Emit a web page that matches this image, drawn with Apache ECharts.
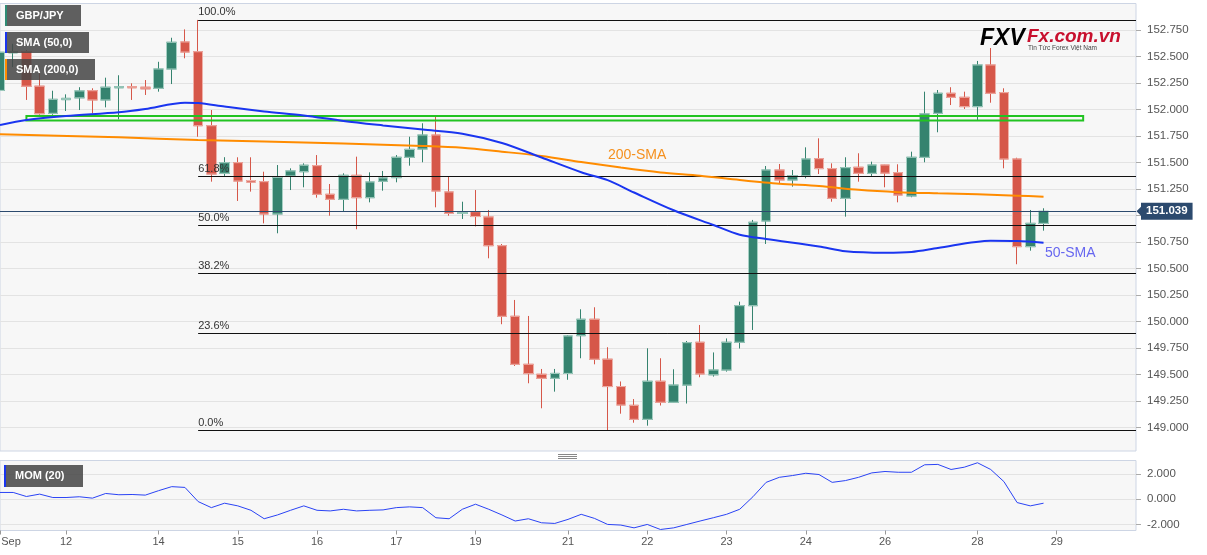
<!DOCTYPE html>
<html><head><meta charset="utf-8">
<script src="https://cdn.jsdelivr.net/npm/echarts@6/dist/echarts.min.js"></script>
<style>html,body{margin:0;padding:0;background:#fff}#c{width:1207px;height:555px}</style>
</head><body><div id="c"></div>
<script>
// ---- data (4-hour candles, index 0 = partially visible first candle) ----
const opens = [
152.18,152.535,152.545,152.22,151.964,152.093,152.11,152.177,152.09,152.205,
152.215,152.21,152.20,152.382,152.637,152.545,151.847,151.398,151.498,151.33,
151.319,151.014,151.373,151.413,151.47,151.20,151.153,151.379,151.168,151.323,
151.357,151.549,151.627,151.759,151.222,151.02,151.036,150.986,150.715,150.049,
149.596,149.502,149.464,149.51,149.866,150.021,149.644,149.386,149.209,149.077,
149.436,149.238,149.40,149.804,149.497,149.542,149.804,150.149,150.948,151.429,
151.335,151.375,151.536,151.442,151.162,151.455,151.398,151.476,151.404,151.184,
151.549,151.964,152.153,152.115,152.027,152.42,152.159,151.533,150.706,150.926];
const closes = [
152.54,152.545,152.22,151.96,152.096,152.105,152.175,152.09,152.21,152.215,
152.205,152.195,152.382,152.634,152.542,151.847,151.391,151.498,151.325,151.315,
151.014,151.36,151.42,151.474,151.20,151.153,151.379,151.168,151.316,151.354,
151.549,151.624,151.759,151.231,151.02,151.03,150.99,150.715,150.049,149.596,
149.508,149.464,149.51,149.863,150.021,149.644,149.386,149.212,149.077,149.436,
149.238,149.40,149.80,149.505,149.542,149.804,150.149,150.936,151.429,151.335,
151.375,151.533,151.442,151.162,151.451,151.398,151.476,151.40,151.193,151.549,
151.958,152.153,152.115,152.027,152.42,152.153,151.533,150.706,150.926,151.039];
const highs = [
152.61,152.62,152.56,152.34,152.177,152.143,152.21,152.20,152.30,152.323,
152.247,152.278,152.45,152.677,152.756,152.845,151.995,151.55,151.549,151.549,
151.413,151.476,151.445,151.492,151.57,151.297,151.398,151.555,151.407,151.42,
151.57,151.743,151.87,151.932,151.366,151.13,151.24,151.052,150.731,150.203,
150.052,149.552,149.552,149.87,150.115,150.134,149.757,149.434,149.268,149.747,
149.653,149.549,149.816,149.967,149.708,149.84,150.187,150.958,151.467,151.486,
151.429,151.643,151.728,151.492,151.549,151.587,151.508,151.478,151.483,151.602,
152.168,152.184,152.21,152.168,152.458,152.58,152.20,151.545,151.052,151.068];
const lows = [
152.09,152.40,152.09,151.95,151.95,151.986,151.995,151.964,152.02,151.907,
152.09,152.137,152.168,152.24,152.483,151.743,151.319,151.373,151.137,151.225,
150.926,150.832,151.24,151.266,151.168,150.998,151.042,150.87,151.124,151.234,
151.313,151.47,151.502,151.077,150.998,150.967,150.897,150.596,149.974,149.58,
149.417,149.181,149.338,149.45,149.653,149.596,148.975,149.13,149.045,149.017,
149.207,149.235,149.226,149.474,149.48,149.527,149.745,149.92,150.731,151.304,
151.272,151.351,151.391,151.13,150.989,151.319,151.373,151.266,151.124,151.172,
151.502,151.785,152.042,152.005,151.901,152.064,151.445,150.54,150.668,150.857];
// moving averages read at selected candle indices: [index, value]
const sma50 = [[0,151.854],[2,151.901],[5,151.939],[9,151.974],[11,152.005],[14,152.064],[15,152.061],
[17,152.028],[20,151.982],[23,151.944],[26,151.892],[29,151.85],[32,151.811],[35,151.772],[38,151.684],
[41,151.547],[44,151.408],[46,151.333],[48,151.217],[51,151.049],[54,150.910],[56,150.818],[58,150.778],
[62,150.708],[64,150.663],[67,150.649],[69,150.656],[71,150.693],[75,150.762],[77,150.759],[79,150.743]];
const sma200 = [[0,151.766],[9,151.738],[15,151.712],[20,151.698],[26,151.679],[32,151.656],[35,151.639],
[38,151.602],[41,151.561],[44,151.505],[47,151.452],[50,151.406],[53,151.375],[56,151.335],[59,151.300],
[62,151.278],[65,151.242],[68,151.220],[71,151.209],[74,151.200],[77,151.187],[79,151.177]];
const mom20 = [
0.53,0.53,0.21,0.40,0.13,0.13,0.19,0.08,0.45,0.35,
0.37,0.32,0.67,0.99,0.93,-0.19,-0.67,-0.32,-0.53,-0.88,
-1.55,-1.25,-0.88,-0.53,-0.88,-0.93,-0.80,-0.93,-0.88,-0.85,
-0.67,-0.61,-0.67,-1.47,-1.55,-0.80,-0.40,-0.80,-1.25,-1.73,
-1.55,-1.87,-1.92,-1.60,-1.20,-1.52,-2.00,-2.05,-2.27,-2.00,
-2.40,-2.27,-2.00,-1.73,-1.47,-1.20,-0.80,0.19,1.33,1.73,
1.87,2.05,1.95,1.33,1.47,1.73,2.08,2.19,2.13,2.13,
2.72,2.75,2.35,2.53,2.88,2.35,1.39,-0.27,-0.53,-0.32];
const tickIdx  = [0,5,12,18,24,30,36,43,49,55,61,67,74,80];
const tickText = ['Sep','12','14','15','16','17','19','21','22','23','24','26','28','29'];
const fibHigh = 152.845, fibLow = 148.975, fibStartIdx = 15;
const fibPct = [100, 61.8, 50, 38.2, 23.6, 0];
const fibText = ['100.0%','61.8%','50.0%','38.2%','23.6%','0.0%'];
const zoneTop = 151.938, zoneBottom = 151.896, zoneFrom = 2, zoneTo = 82;
const lastPrice = 151.039;

// ---- chart ----
const FONT = 'Arial, "Liberation Sans", Helvetica, sans-serif';
const N = 87;
const cats = Array.from({length:N}, (_, j) => 'c' + j);
const candleData = opens.map((o, i) => [o, closes[i], lows[i], highs[i]]);
// bodies only (open/close range) for the lighter body outline
const bodyData = opens.map((o, i) => [o, closes[i], Math.min(o, closes[i]), Math.max(o, closes[i])]);
const momData = mom20.map((v, i) => [i, v]);
const tickOf = {}; tickIdx.forEach((j, i) => { tickOf[j] = tickText[i]; });

const UP = '#35836f', DOWN = '#d65749', UP_EDGE = '#a6d0c4', DOWN_EDGE = '#efb0a8';
const fibLines = fibPct.map((p, i) => {
  const lv = fibLow + (fibHigh - fibLow) * p / 100;
  return [
    {coord:[fibStartIdx, lv], lineStyle:{color:'#111', width:1, type:'solid'},
     label:{show:true, position:'insideStartTop', formatter:fibText[i], color:'#333', fontSize:11, fontFamily:FONT, distance:[0,2]}},
    {coord:[N-1, lv]}
  ];
});

const chart = echarts.init(document.getElementById('c'), null, {renderer:'canvas'});
const option = {
  animation:false,
  backgroundColor:'#ffffff',
  textStyle:{fontFamily:FONT},
  grid:[
    {left:0, top:3.5, width:1136, height:447.5, show:true, backgroundColor:'#f7f7f7', borderColor:'#cdd5e4', borderWidth:1, containLabel:false, outerBoundsMode:'none'},
    {left:0, top:460.5, width:1136, height:70, show:true, backgroundColor:'#f7f7f7', borderColor:'#cdd5e4', borderWidth:1, containLabel:false, outerBoundsMode:'none'}
  ],
  xAxis:[
    {type:'category', gridIndex:0, data:cats, boundaryGap:false, axisLine:{show:false, onZero:false}, axisTick:{show:false}, axisLabel:{show:false}, splitLine:{show:false}},
    {type:'category', gridIndex:1, data:cats, boundaryGap:false, position:'bottom', axisLine:{show:false, onZero:false},
     axisTick:{show:true, length:4, interval:(i) => tickOf[i] !== undefined, lineStyle:{color:'#999'}},
     axisLabel:{interval:0, color:'#555', fontSize:11, fontFamily:FONT, margin:6,
       formatter:(v, i) => { const t = tickOf[i]; if (t === undefined) return ''; return i === 0 ? '{s|' + t + '}' : t; },
       rich:{s:{padding:[0,0,0,22], color:'#555', fontSize:11, fontFamily:FONT}}},
     splitLine:{show:false}}
  ],
  yAxis:[
    {type:'value', gridIndex:0, position:'right', min:148.778, max:153.0, minInterval:0.25, maxInterval:0.25,
     axisLine:{show:false}, axisTick:{show:true, length:5, lineStyle:{color:'#aaa'}},
     axisLabel:{showMinLabel:false, showMaxLabel:false, formatter:(v) => v.toFixed(3), color:'#555', fontSize:11.5, fontFamily:FONT, margin:11},
     splitLine:{show:true, showMinLine:false, showMaxLine:false, lineStyle:{color:'#e3e3e3', width:1}}},
    {type:'value', gridIndex:1, position:'right', min:-2.48, max:3.06, minInterval:2, maxInterval:2, splitNumber:3,
     axisLine:{show:false}, axisTick:{show:true, length:5, lineStyle:{color:'#aaa'}},
     axisLabel:{showMinLabel:false, showMaxLabel:false, formatter:(v) => v.toFixed(3), color:'#555', fontSize:11.5, fontFamily:FONT, margin:11},
     splitLine:{show:true, showMinLine:false, showMaxLine:false, lineStyle:{color:'#e3e3e3', width:1}}}
  ],
  series:[
    {type:'candlestick', name:'GBP/JPY', xAxisIndex:0, yAxisIndex:0, data:candleData, barWidth:10, z:2,
     itemStyle:{color:UP, color0:DOWN, borderColor:UP, borderColor0:DOWN, borderWidth:1}},
    {type:'candlestick', name:'bodies', xAxisIndex:0, yAxisIndex:0, data:bodyData, barWidth:10, z:2,
     itemStyle:{color:UP, color0:DOWN, borderColor:UP_EDGE, borderColor0:DOWN_EDGE, borderWidth:1},
     markLine:{silent:true, z:5, symbol:['none','none'], animation:false,
       data: fibLines.concat([{yAxis:lastPrice, lineStyle:{color:'#2c4a6e', width:1, type:'solid'},
         label:{show:true, position:'end', formatter:lastPrice.toFixed(3), color:'#fff', backgroundColor:'#2c4a6e',
                padding:[3,5,2,5], fontWeight:'bold', fontSize:11.5, fontFamily:FONT, distance:5}}])},
     markArea:{silent:true, z:6, itemStyle:{color:'rgba(0,0,0,0)', borderColor:'#22c322', borderWidth:2},
       data:[[{coord:[zoneFrom, zoneTop]}, {coord:[zoneTo, zoneBottom]}]]}
    },
    {type:'line', name:'SMA (200,0)', xAxisIndex:0, yAxisIndex:0, data:sma200, smooth:0.3, showSymbol:false, symbol:'none',
     lineStyle:{color:'#ff8c00', width:2}, z:7},
    {type:'line', name:'SMA (50,0)', xAxisIndex:0, yAxisIndex:0, data:sma50, smooth:0.3, showSymbol:false, symbol:'none',
     lineStyle:{color:'#1a35f0', width:2}, z:8},
    {type:'line', name:'MOM (20)', xAxisIndex:1, yAxisIndex:1, data:momData, showSymbol:false, symbol:'none',
     lineStyle:{color:'#2a43f5', width:1}}
  ]
};
chart.setOption(option);

function legendBox(x, y, w, h, text, bar) {
  return [
    {type:'rect', shape:{x, y, width:w, height:h}, style:{fill:'rgba(70,70,70,0.86)'}, z:100},
    {type:'rect', shape:{x, y, width:2, height:h}, style:{fill:bar}, z:101},
    {type:'text', x:x + 11, y:y + h / 2, style:{text, fill:'#fff', font:'bold 11px ' + FONT, verticalAlign:'middle'}, z:101}
  ];
}
const py = chart.convertToPixel({xAxisIndex:0, yAxisIndex:0}, [0, lastPrice])[1];
const graphic = [].concat(
  legendBox(5, 5, 76, 21, 'GBP/JPY', '#2e8b74'),
  legendBox(5, 32, 84, 21, 'SMA (50,0)', '#1a35f0'),
  legendBox(5, 59, 90, 21, 'SMA (200,0)', '#ff8c00'),
  legendBox(4, 465, 79, 22, 'MOM (20)', '#1a35f0'),
  [
    {type:'polygon', shape:{points:[[1136.5, py], [1141.5, py - 5], [1141.5, py + 5]]}, style:{fill:'#2c4a6e'}, z:100},
    {type:'text', x:608, y:155, style:{text:'200-SMA', fill:'#f5901e', font:'14px ' + FONT, verticalAlign:'middle'}, z:100},
    {type:'text', x:1045, y:253, style:{text:'50-SMA', fill:'#6767f0', font:'14px ' + FONT, verticalAlign:'middle'}, z:100},
    {type:'text', x:980, y:39, style:{text:'FXV', font:'italic bold 23px ' + FONT, verticalAlign:'middle',
      fill:new echarts.graphic.LinearGradient(0, 0, 1, 0, [{offset:0, color:'#e3202b'}, {offset:0.6, color:'#ee5a22'}, {offset:1, color:'#f5a81c'}])}, z:100},
    {type:'text', x:1027, y:37, style:{text:'Fx.com.vn', fill:'#c8102e', font:'italic bold 19px ' + FONT, verticalAlign:'middle'}, z:100},
    {type:'text', x:1028, y:48.5, style:{text:'Tin Tức Forex Việt Nam', fill:'#444', font:'6.5px ' + FONT, verticalAlign:'middle'}, z:100},
    {type:'line', shape:{x1:558, y1:454.5, x2:577, y2:454.5}, style:{stroke:'#888', lineWidth:1}, z:100},
    {type:'line', shape:{x1:558, y1:456.5, x2:577, y2:456.5}, style:{stroke:'#888', lineWidth:1}, z:100},
    {type:'line', shape:{x1:558, y1:458.5, x2:577, y2:458.5}, style:{stroke:'#888', lineWidth:1}, z:100}
  ]
);
chart.setOption({graphic});
</script>
</body></html>
